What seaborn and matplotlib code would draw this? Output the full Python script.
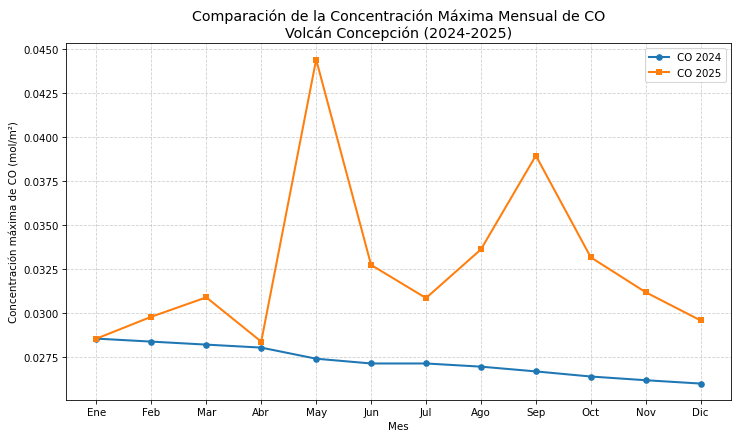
import pandas as pd
import matplotlib.pyplot as plt
import seaborn as sns

plt.switch_backend('Agg')

meses = ['Ene', 'Feb', 'Mar', 'Abr', 'May', 'Jun', 'Jul', 'Ago', 'Sep', 'Oct', 'Nov', 'Dic']
co_2024 = [0.02857, 0.02840, 0.02823, 0.02806, 0.02743, 0.02716, 0.02716, 0.02698,
           0.02671, 0.02642, 0.02621, 0.02602]
co_2025 = [0.02857, 0.02981, 0.03091, 0.02840, 0.04440, 0.03275, 0.03087, 0.03363,
           0.03895, 0.03318, 0.03120, 0.02960]

df = pd.DataFrame({'Mes': meses, 'CO 2024': co_2024, 'CO 2025': co_2025})

# figura de 10x5.95 pulgadas, escalada a 736x438 px
fig = plt.figure(figsize=(10, 5.95), dpi=73.6)
ax = fig.add_subplot(111)

sns.lineplot(data=df, x='Mes', y='CO 2024', marker='o', markersize=6.5, linewidth=2,
             color='#1f77b4', label='CO 2024', sort=False, markeredgewidth=0, ax=ax)
sns.lineplot(data=df, x='Mes', y='CO 2025', marker='s', markersize=6.5, linewidth=2,
             color='#ff7f0e', label='CO 2025', sort=False, markeredgewidth=0, ax=ax)

ax.set_title('Comparación de la Concentración Máxima Mensual de CO\nVolcán Concepción (2024-2025)',
             fontsize=14)
ax.set_xlabel('Mes')
ax.set_ylabel('Concentración máxima de CO (mol/m²)')
ax.grid(True, linestyle='--', alpha=0.6)
ax.legend(loc='upper right')

fig.subplots_adjust(left=0.09, right=0.993, top=0.899, bottom=0.085)
plt.savefig('out.png')
